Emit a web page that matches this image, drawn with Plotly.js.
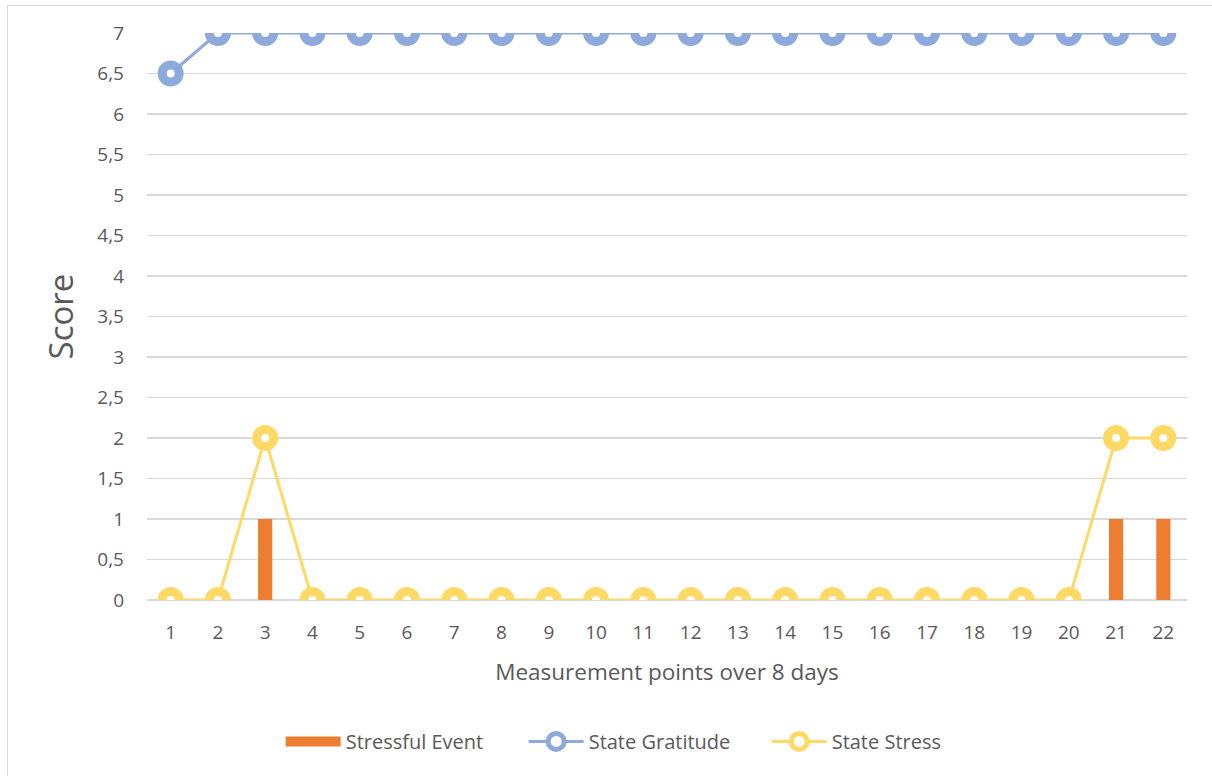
<!DOCTYPE html>
<html><head><meta charset="utf-8">
<script src="https://cdn.plot.ly/plotly-3.0.1.min.js"></script>
<style>
html,body{margin:0;padding:0;background:#fff;}
#wrap{position:relative;width:1212px;height:776px;overflow:hidden;}
#frame{position:absolute;left:7px;top:5px;width:1300px;height:900px;border:1.5px solid #d9d9d9;box-sizing:border-box;pointer-events:none;}
#chart{position:absolute;left:0;top:0;width:1212px;height:776px;}
</style></head>
<body><div id="wrap"><div id="chart"></div><div id="frame"></div></div>
<script>
const categories = ['1','2','3','4','5','6','7','8','9','10','11','12','13','14','15','16','17','18','19','20','21','22'];
const stressfulEvent = [0,0,1,0,0,0,0,0,0,0,0,0,0,0,0,0,0,0,0,0,1,1];
const stateGratitude = [6.5,7,7,7,7,7,7,7,7,7,7,7,7,7,7,7,7,7,7,7,7,7];
const stateStress = [0,0,2,0,0,0,0,0,0,0,0,0,0,0,0,0,0,0,0,0,2,2];
const yTickVals = [0,0.5,1,1.5,2,2.5,3,3.5,4,4.5,5,5.5,6,6.5,7];
const yTickText = ['0','0,5','1','1,5','2','2,5','3','3,5','4','4,5','5','5,5','6','6,5','7'];

const txt = '#595959';
const font = '"Open Sans", sans-serif';
const traces = [
  {type:'bar', name:'Stressful Event', x:categories, y:stressfulEvent, width:0.3,
   marker:{color:'#ED7D31'}, showlegend:false},
  {type:'scatter', mode:'lines', name:'Stressful Event', x:[categories[0]], y:[null],
   line:{color:'#ED7D31', width:15}, showlegend:true},
  {type:'scatter', mode:'lines+markers', name:'State Gratitude', x:categories, y:stateGratitude,
   line:{color:'#8EA9DB', width:3},
   marker:{symbol:'circle', size:17, color:'#ffffff', line:{color:'#8EA9DB', width:9}}},
  {type:'scatter', mode:'lines+markers', name:'State Stress', x:categories, y:stateStress,
   line:{color:'#FFD966', width:3},
   marker:{symbol:'circle', size:17, color:'#ffffff', line:{color:'#FFD966', width:9}}}
];
const layout = {
  width:1212, height:776,
  margin:{l:146.5, r:25.3, t:33, b:176},
  paper_bgcolor:'#ffffff', plot_bgcolor:'#ffffff',
  font:{family:font, color:txt, size:18},
  showlegend:true,
  legend:{orientation:'h', x:0.479, xanchor:'center', y:-0.215, yanchor:'top',
    font:{size:20, color:txt}, itemwidth:55, traceorder:'normal',
    entrywidthmode:'pixels', entrywidth:173},
  xaxis:{type:'category', range:[-0.5,21.5], showgrid:false, zeroline:false,
    showline:false, ticks:'', tickfont:{size:19, color:txt}, ticklabelstandoff:19,
    title:{text:'Measurement points over 8 days', font:{size:22.5, color:txt}, standoff:20}},
  yaxis:{range:[0,7], tickvals:yTickVals, ticktext:yTickText, showgrid:true,
    gridcolor:'#d9d9d9', gridwidth:1.5, zeroline:true, zerolinecolor:'#d9d9d9', zerolinewidth:1.5,
    showline:false, ticks:'', tickfont:{size:19, color:txt}, ticklabelstandoff:22,
    title:{text:'Score', font:{size:33, color:txt}, standoff:13}},
  bargap:0.7
};
Plotly.newPlot('chart', traces, layout, {displayModeBar:false, staticPlot:true});
</script></body></html>
